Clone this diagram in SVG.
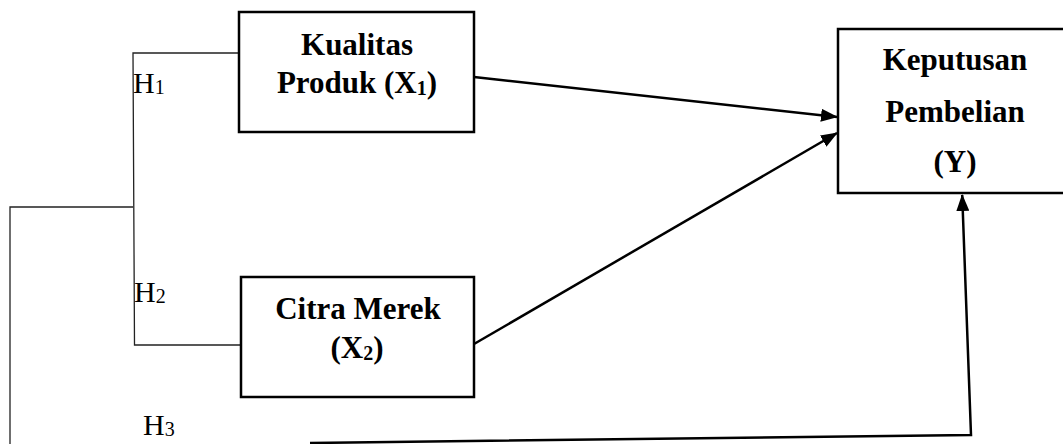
<svg xmlns="http://www.w3.org/2000/svg" width="1063" height="444" viewBox="0 0 1063 444">
<style>
.box{fill:#fff;stroke:#000;stroke-width:2.5}
.t{font-family:"Liberation Serif","Times New Roman",serif;font-size:31px;font-weight:bold;fill:#000;text-anchor:middle}
.h{font-family:"Liberation Serif","Times New Roman",serif;font-size:30px;fill:#000}
.sub{font-size:20px}
.thin{fill:none;stroke:#222;stroke-width:1.3}
.arr{fill:none;stroke:#000;stroke-width:2.5;marker-end:url(#ah)}
</style>
<defs>
<marker id="ah" markerWidth="17" markerHeight="13" refX="16" refY="6.5" orient="auto" markerUnits="userSpaceOnUse">
<path d="M0,0 L17,6.5 L0,13 Z" fill="#000"/>
</marker>
</defs>
<rect width="1063" height="444" fill="#fff"/>
<g id="connectors">
<polyline class="thin" points="239,53 133,53 134.5,345 241,345"/>
<polyline class="thin" points="133,207 10,207 10,444"/>
<path class="arr" d="M474,77 L837,117"/>
<path class="arr" d="M474,344 L837,133"/>
<polyline points="310,443 971,435 962.2,195" fill="none" stroke="#000" stroke-width="2.5" marker-end="url(#ah)"/>
</g>
<g id="node-x1">
<rect class="box" x="239" y="12" width="235" height="120"/>
<text class="t" x="357" y="55">Kualitas</text>
<text class="t" x="357" y="93">Produk (X<tspan class="sub" dy="2">1</tspan><tspan dy="-2">)</tspan></text>
</g>
<g id="node-x2">
<rect class="box" x="241" y="277" width="233" height="120"/>
<text class="t" x="358" y="319">Citra Merek</text>
<text class="t" x="357" y="358">(X<tspan class="sub" dy="2">2</tspan><tspan dy="-2">)</tspan></text>
</g>
<g id="node-y">
<rect class="box" x="838" y="29" width="240" height="164"/>
<text class="t" x="955" y="70">Keputusan</text>
<text class="t" x="955" y="122">Pembelian</text>
<text class="t" x="955" y="172">(Y)</text>
</g>
<g id="labels">
<text class="h" x="133" y="93">H<tspan class="sub" dy="1">1</tspan></text>
<text class="h" x="134" y="302">H<tspan class="sub" dy="1">2</tspan></text>
<text class="h" x="143" y="435">H<tspan class="sub" dy="1">3</tspan></text>
</g>
</svg>
